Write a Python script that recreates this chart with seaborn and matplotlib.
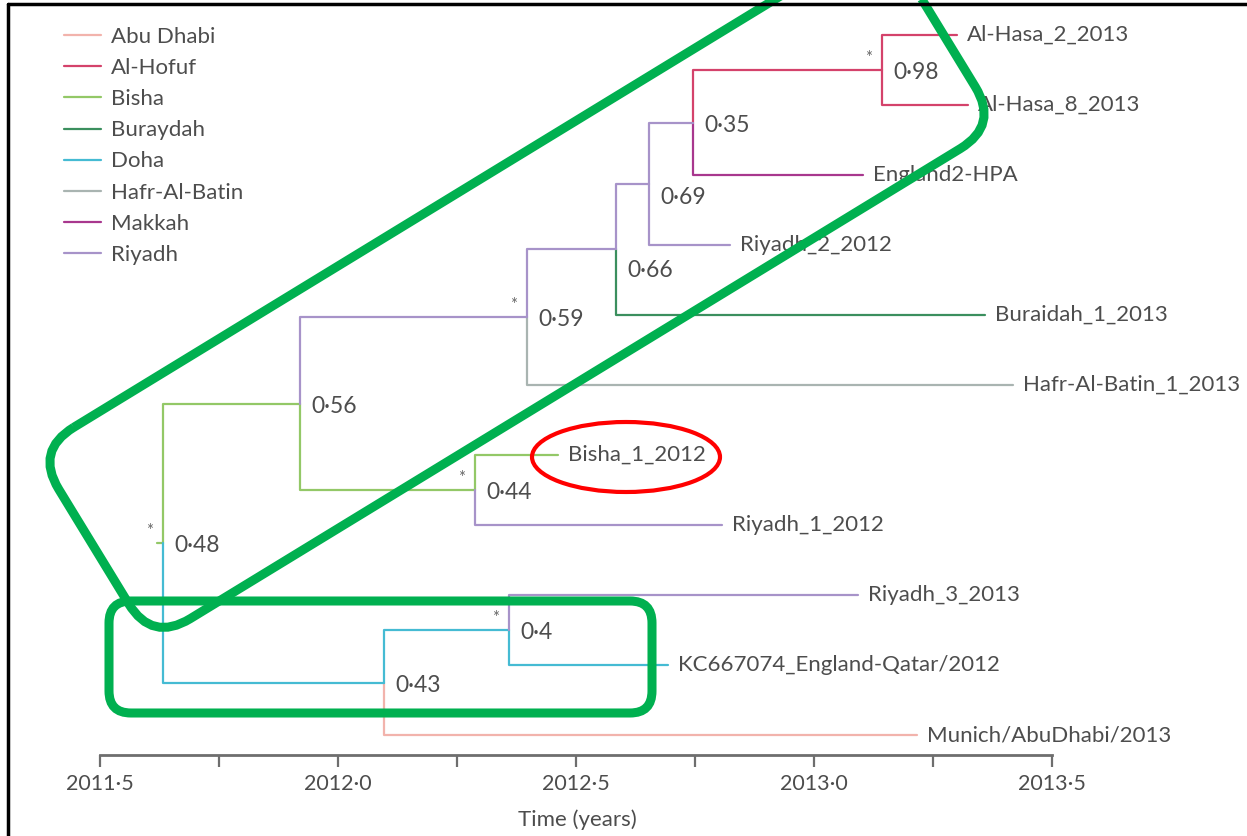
import pandas as pd
import seaborn as sns
import matplotlib.pyplot as plt
from matplotlib.patches import FancyBboxPatch, Ellipse
from matplotlib.lines import Line2D
import matplotlib.transforms as mtransforms

# sampling locations (legend order) and their colours
locations = ["Abu Dhabi", "Al-Hofuf", "Bisha", "Buraydah", "Doha",
             "Hafr-Al-Batin", "Makkah", "Riyadh"]
location_colors = ["#F2B3AC", "#D4426B", "#93C867", "#3B8F5E", "#45BBD3",
                   "#A9B4B1", "#A8378E", "#A793C9"]

# tips, top to bottom
tip_names = ["Al-Hasa_2_2013", "Al-Hasa_8_2013", "England2-HPA", "Riyadh_2_2012",
             "Buraidah_1_2013", "Hafr-Al-Batin_1_2013", "Bisha_1_2012",
             "Riyadh_1_2012", "Riyadh_3_2013", "KC667074_England-Qatar/2012",
             "Munich/AbuDhabi/2013"]
tip_times = [2013.300, 2013.324, 2013.103, 2012.824, 2013.359, 2013.418,
             2012.462, 2012.807, 2013.092, 2012.693, 2013.216]
tip_locations = ["Al-Hofuf", "Al-Hofuf", "Makkah", "Riyadh", "Buraydah",
                 "Hafr-Al-Batin", "Bisha", "Riyadh", "Riyadh", "Doha", "Abu Dhabi"]

# internal nodes (children listed top to bottom)
node_names = ["n098", "n035", "n069", "n066", "n059", "n044", "n056", "n040", "n043", "root"]
node_times = [2013.143, 2012.746, 2012.653, 2012.584, 2012.397, 2012.288,
              2011.920, 2012.359, 2012.097, 2011.632]
node_children = [("Al-Hasa_2_2013", "Al-Hasa_8_2013"),
                 ("n098", "England2-HPA"),
                 ("n035", "Riyadh_2_2012"),
                 ("n069", "Buraidah_1_2013"),
                 ("n066", "Hafr-Al-Batin_1_2013"),
                 ("Bisha_1_2012", "Riyadh_1_2012"),
                 ("n059", "n044"),
                 ("Riyadh_3_2013", "KC667074_England-Qatar/2012"),
                 ("n040", "Munich/AbuDhabi/2013"),
                 ("n056", "n043")]
node_locations = ["Al-Hofuf", "Riyadh", "Riyadh", "Riyadh", "Riyadh", "Bisha",
                  "Bisha", "Doha", "Doha", "Bisha"]
node_posteriors = ["0·98", "0·35", "0·69", "0·66", "0·59", "0·44", "0·56", "0·4", "0·43", "0·48"]
node_starred = [True, False, False, False, True, True, False, True, False, True]
root_branch_start = 2011.620

tick_values = [2011.5, 2012.0, 2012.5, 2013.0, 2013.5]
tick_labels = ["2011·5", "2012·0", "2012·5", "2013·0", "2013·5"]
minor_tick_values = [2011.75, 2012.25, 2012.75, 2013.25]

# ---- tree layout: tips on rows, internal nodes midway between children
times = dict(zip(tip_names, tip_times))
times.update(zip(node_names, node_times))
states = dict(zip(tip_names, tip_locations))
states.update(zip(node_names, node_locations))
ypos = {name: float(i) for i, name in enumerate(tip_names)}
parent = {}
for name, kids in zip(node_names, node_children):
    ypos[name] = sum(ypos[k] for k in kids) / len(kids)
    for k in kids:
        parent[k] = name

rows = []
for b, name in enumerate(list(times)):
    if name in parent:
        p = parent[name]
        pts = [(times[p], ypos[p]), (times[p], ypos[name]), (times[name], ypos[name])]
    else:
        pts = [(root_branch_start, ypos[name]), (times[name], ypos[name])]
    for t, y in pts:
        rows.append({"branch": b, "t": t, "y": y, "location": states[name]})
branches = pd.DataFrame(rows)

# ---- figure
W, H = 1247, 836
sns.set_theme(style="white")
plt.rcParams["font.family"] = ["Lato", "DejaVu Sans"]
text_color = "#4D4D4D"

fig = plt.figure(figsize=(W / 100, H / 100), dpi=100)
ax = fig.add_axes([0, 0, 1, 1])

px_per_year = 476
ax.set_xlim(2011.5 - 100 / px_per_year, 2011.5 + (W - 100) / px_per_year)
ax.set_ylim((H - 35) / 70, -0.5)

sns.lineplot(data=branches, x="t", y="y", hue="location", hue_order=locations,
             palette=dict(zip(locations, location_colors)), units="branch",
             estimator=None, sort=False, linewidth=1.6, ax=ax)

for name in tip_names:
    ax.annotate(name, (times[name], ypos[name]), xytext=(7, 0), textcoords="offset points",
                ha="left", va="center", fontsize=16, color=text_color)

label_nudge = {"n069": 8, "n066": 13}
for name, post, star in zip(node_names, node_posteriors, node_starred):
    ax.annotate(post, (times[name], ypos[name]),
                xytext=(8, -2 - label_nudge.get(name, 0)), textcoords="offset points",
                ha="left", va="center", fontsize=16.5, color=text_color)
    if star:
        ax.annotate("*", (times[name], ypos[name]), xytext=(-9.5, 9), textcoords="offset points",
                    ha="center", va="center", fontsize=12, color="#666666")

# time axis
for side in ["top", "left", "right"]:
    ax.spines[side].set_visible(False)
ax.spines["bottom"].set_position(("data", (755 - 35) / 70))
ax.spines["bottom"].set_bounds(tick_values[0], tick_values[-1])
ax.spines["bottom"].set_color("#6E6E6E")
ax.spines["bottom"].set_linewidth(2)
ax.set_xticks(tick_values)
ax.set_xticklabels(tick_labels)
ax.set_xticks(minor_tick_values, minor=True)
ax.tick_params(axis="x", which="both", bottom=True, direction="out", length=8.5,
               width=1.6, color="#6E6E6E", labelsize=15.5, labelcolor=text_color, pad=5)
ax.set_yticks([])
ax.set_xlabel("Time (years)", fontsize=16, color=text_color)
ax.xaxis.set_label_coords(577 / W, 1 - 809 / H)
ax.set_ylabel("")

ax.legend(loc="upper left", bbox_to_anchor=(64 / W, 1 - 27 / H), bbox_transform=fig.transFigure,
          frameon=False, fontsize=16, labelcolor=text_color, handlelength=1.65,
          handletextpad=0.45, labelspacing=0.5, borderpad=0, borderaxespad=0)

# ---- overlay highlights drawn in pixel space
ov = fig.add_axes([0, 0, 1, 1], zorder=5)
ov.set_xlim(0, W)
ov.set_ylim(H, 0)
ov.axis("off")
ov.patch.set_alpha(0)

green = "#00B050"
big = FancyBboxPatch((-496, -112), 992, 224, boxstyle="round,pad=0,rounding_size=45",
                     fill=False, edgecolor=green, linewidth=6.5)
big.set_transform(mtransforms.Affine2D().rotate_deg(-31.4).translate(517, 288) + ov.transData)
ov.add_patch(big)
ov.add_patch(FancyBboxPatch((109, 601), 543, 112, boxstyle="round,pad=0,rounding_size=22",
                            fill=False, edgecolor=green, linewidth=6.5))
ov.add_patch(Ellipse((626, 457), 188, 70, fill=False, edgecolor="#FF0000", linewidth=3))

ov.add_line(Line2D([8, W], [4, 4], color="black", linewidth=2.5))
ov.add_line(Line2D([8, 8], [4, H], color="black", linewidth=2.5))

fig.savefig("out.png", dpi=100)
